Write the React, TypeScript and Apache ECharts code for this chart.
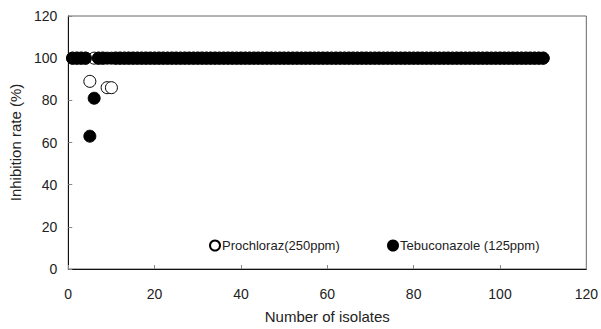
import React, { useEffect, useRef } from "react";
import * as echarts from "echarts";

const xTicks = [0, 20, 40, 60, 80, 100, 120];
const yTicks = [0, 20, 40, 60, 80, 100, 120];
const seriesNames = ["Prochloraz(250ppm)", "Tebuconazole (125ppm)"];

// inhibition rate (%) for isolates 1..110
const prochloraz = [
  100, 100, 100, 100, 89, 100, 100, 100, 86, 86,
  100, 100, 100, 100, 100, 100, 100, 100, 100, 100,
  100, 100, 100, 100, 100, 100, 100, 100, 100, 100,
  100, 100, 100, 100, 100, 100, 100, 100, 100, 100,
  100, 100, 100, 100, 100, 100, 100, 100, 100, 100,
  100, 100, 100, 100, 100, 100, 100, 100, 100, 100,
  100, 100, 100, 100, 100, 100, 100, 100, 100, 100,
  100, 100, 100, 100, 100, 100, 100, 100, 100, 100,
  100, 100, 100, 100, 100, 100, 100, 100, 100, 100,
  100, 100, 100, 100, 100, 100, 100, 100, 100, 100,
  100, 100, 100, 100, 100, 100, 100, 100, 100, 100,
];
const tebuconazole = [
  100, 100, 100, 100, 63, 81, 100, 100, 100, 100,
  100, 100, 100, 100, 100, 100, 100, 100, 100, 100,
  100, 100, 100, 100, 100, 100, 100, 100, 100, 100,
  100, 100, 100, 100, 100, 100, 100, 100, 100, 100,
  100, 100, 100, 100, 100, 100, 100, 100, 100, 100,
  100, 100, 100, 100, 100, 100, 100, 100, 100, 100,
  100, 100, 100, 100, 100, 100, 100, 100, 100, 100,
  100, 100, 100, 100, 100, 100, 100, 100, 100, 100,
  100, 100, 100, 100, 100, 100, 100, 100, 100, 100,
  100, 100, 100, 100, 100, 100, 100, 100, 100, 100,
  100, 100, 100, 100, 100, 100, 100, 100, 100, 100,
];

const FONT = "'Liberation Sans', Arial, sans-serif";

export default function App() {
  const ref = useRef<HTMLDivElement>(null);
  useEffect(() => {
    if (!ref.current) return;
    const chart = echarts.init(ref.current, null, { renderer: "svg" });
    const toPts = (arr: number[]) => arr.map((v, i) => [i + 1, v]);
    const legendBase = {
      top: 234,
      itemWidth: 10,
      itemHeight: 10,
      icon: "circle",
      textStyle: { fontSize: 13, color: "#222", fontFamily: FONT, padding: [0, 0, 0, -3] },
    };
    chart.setOption({
      animation: false,
      backgroundColor: "#fff",
      textStyle: { fontFamily: FONT },
      grid: {
        left: 67,
        right: 14,
        top: 16,
        bottom: 58,
        show: true,
        borderColor: "#666",
        borderWidth: 1,
      },
      xAxis: {
        type: "value",
        min: xTicks[0],
        max: xTicks[xTicks.length - 1],
        interval: 20,
        name: "Number of isolates",
        nameLocation: "middle",
        nameGap: 40,
        nameTextStyle: { fontSize: 15, color: "#222", fontFamily: FONT },
        axisLine: { show: true, onZero: false, lineStyle: { color: "#111", width: 1 } },
        axisTick: { show: true, inside: true, length: 4, lineStyle: { color: "#888" } },
        axisLabel: { fontSize: 14, color: "#222", margin: 18, fontFamily: FONT },
        splitLine: { show: false },
      },
      yAxis: {
        type: "value",
        min: yTicks[0],
        max: yTicks[yTicks.length - 1],
        interval: 20,
        name: "Inhibition rate (%)",
        nameLocation: "middle",
        nameGap: 44,
        nameTextStyle: { fontSize: 15, color: "#222", fontFamily: FONT },
        axisLine: { show: true, lineStyle: { color: "#111", width: 1 } },
        axisTick: { show: true, inside: true, length: 4, lineStyle: { color: "#888" } },
        axisLabel: { fontSize: 14, color: "#222", margin: 11, fontFamily: FONT },
        splitLine: { show: false },
      },
      legend: [
        { ...legendBase, left: 204, data: [seriesNames[0]] },
        { ...legendBase, left: 382, data: [seriesNames[1]] },
      ],
      series: [
        {
          name: seriesNames[0],
          type: "scatter",
          symbol: "circle",
          symbolSize: 12,
          itemStyle: { color: "#fff", borderColor: "#000", borderWidth: 1, opacity: 1 },
          data: toPts(prochloraz),
          z: 2,
        },
        {
          name: seriesNames[1],
          type: "scatter",
          symbol: "circle",
          symbolSize: 12,
          itemStyle: { color: "#000", borderColor: "#000", borderWidth: 1, opacity: 1 },
          data: toPts(tebuconazole),
          z: 3,
        },
      ],
    });
    return () => chart.dispose();
  }, []);
  return <div ref={ref} style={{ width: 601, height: 329, position: "absolute", left: 0, top: 0 }} />;
}
